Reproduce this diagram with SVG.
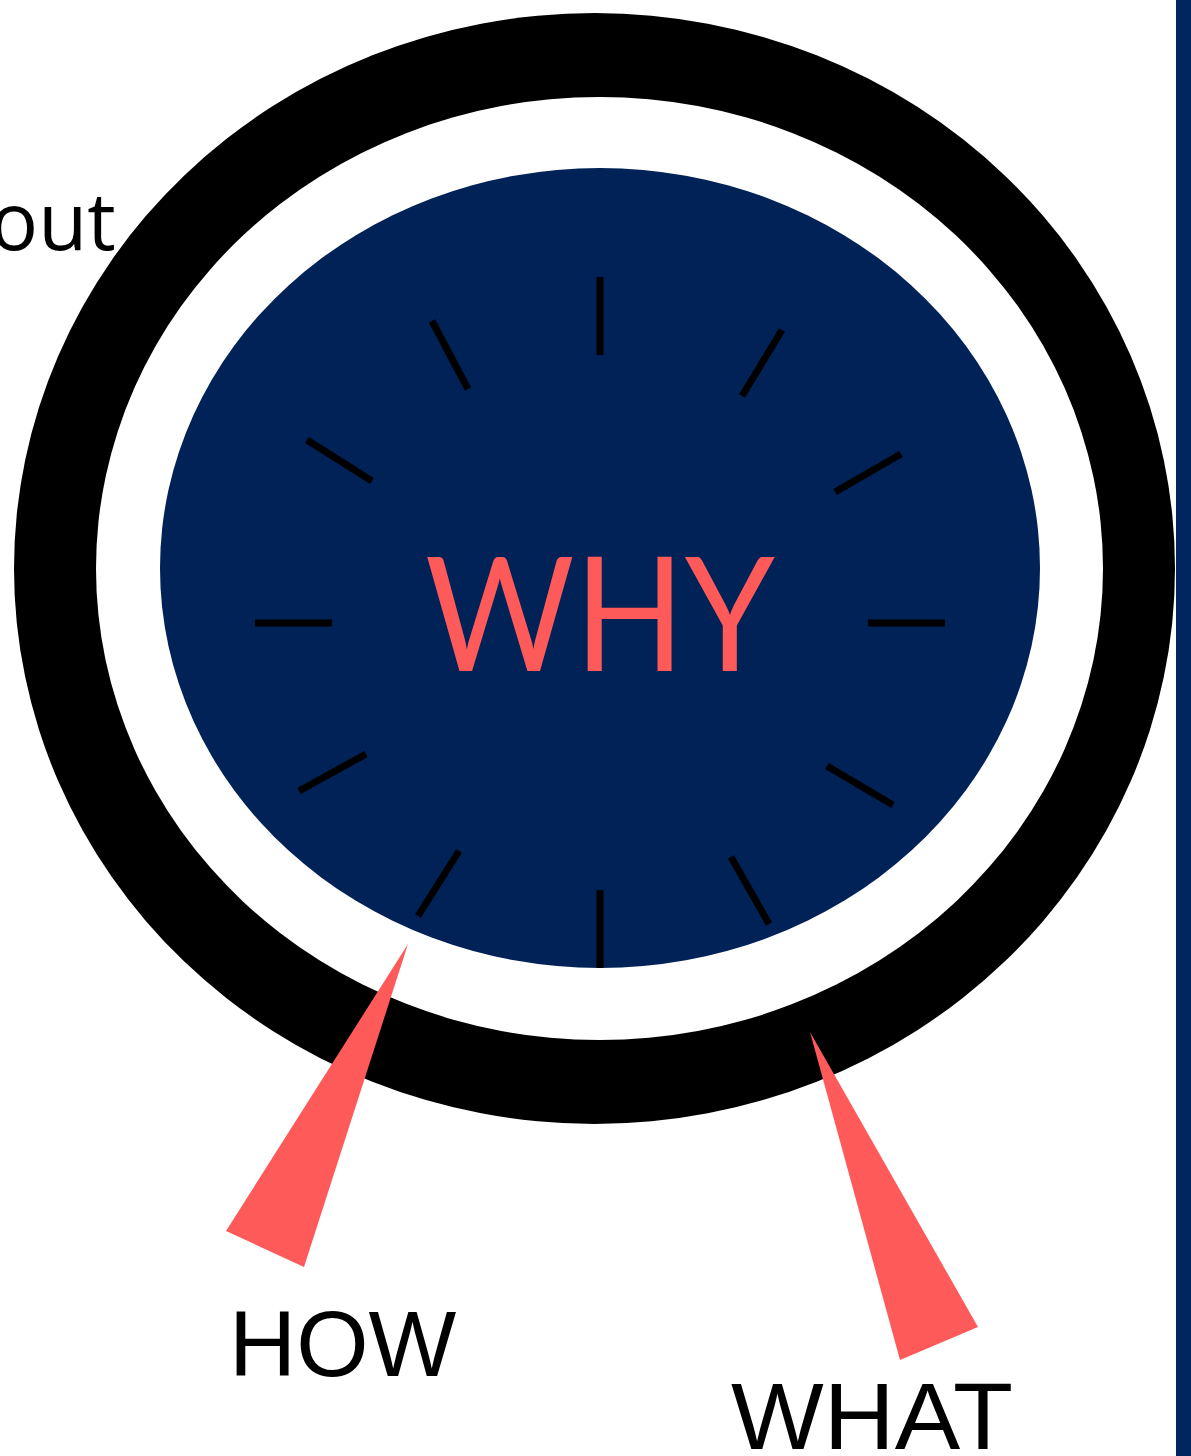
<svg xmlns="http://www.w3.org/2000/svg" width="1191" height="1456" viewBox="0 0 1191 1456">
  <style>
    .tick { stroke: #000000; stroke-width: 7; }
    .pointer { fill: #ff5a5a; }
    .label { font-family: "Liberation Sans", Arial, sans-serif; fill: #000000; }
  </style>
  <rect x="0" y="0" width="1191" height="1456" fill="#ffffff"/>
  <rect x="1176" y="0" width="15" height="1456" fill="#002660"/>
  <text x="-10" y="250" font-family="Open Sans, sans-serif" font-size="80" fill="#000000">out</text>

  <g id="dial">
    <ellipse cx="594.5" cy="568.5" rx="580.5" ry="555.5" fill="#000000"/>
    <ellipse cx="599.5" cy="568.5" rx="503.5" ry="471.5" fill="#ffffff"/>
    <ellipse cx="600" cy="568" rx="440" ry="400" fill="#002256"/>
  </g>

  <g id="ticks">
    <line class="tick" x1="600" y1="277" x2="600" y2="355"/>
    <line class="tick" x1="600" y1="890" x2="600" y2="968"/>
    <line class="tick" x1="255" y1="623" x2="332" y2="623"/>
    <line class="tick" x1="868" y1="623" x2="945" y2="623"/>
    <line class="tick" x1="432" y1="321" x2="468" y2="389"/>
    <line class="tick" x1="307" y1="440" x2="372" y2="481"/>
    <line class="tick" x1="299" y1="791" x2="366" y2="754"/>
    <line class="tick" x1="418" y1="916" x2="459" y2="851"/>
    <line class="tick" x1="782" y1="330" x2="742" y2="396"/>
    <line class="tick" x1="901" y1="454" x2="835" y2="492"/>
    <line class="tick" x1="827" y1="766" x2="893" y2="805"/>
    <line class="tick" x1="731" y1="857" x2="769" y2="924"/>
  </g>

  <g id="why">
    <text x="600" y="671" text-anchor="middle" font-family="Lato, sans-serif" font-size="160" fill="#ff5a5a" textLength="350" lengthAdjust="spacingAndGlyphs">WHY</text>
  </g>

  <g id="connectors">
    <polygon class="pointer" points="408,944 226,1231 304,1267"/>
    <polygon class="pointer" points="810,1032 978,1327 900,1360"/>
  </g>

  <g id="how">
    <text class="label" x="229" y="1376" font-size="93">HOW</text>
  </g>
  <g id="what">
    <text class="label" x="731" y="1449" font-size="95" textLength="282" lengthAdjust="spacingAndGlyphs">WHAT</text>
  </g>
</svg>
